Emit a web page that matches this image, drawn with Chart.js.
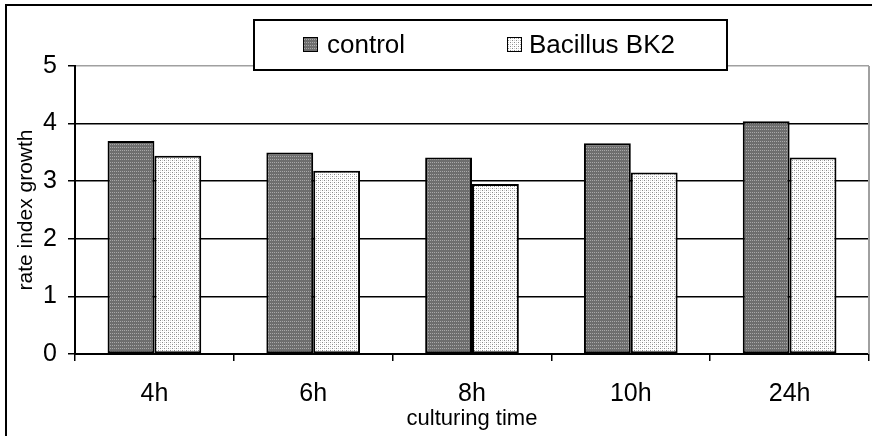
<!DOCTYPE html>
<html lang="en">
<head>
    <meta charset="UTF-8">
    <title>rate index growth</title>
    <style>
        body { margin: 0; background: #fff; }
        canvas { display: block; }
    </style>
</head>
<body>
<canvas id="chart" width="872" height="436"></canvas>

<script src="https://cdn.jsdelivr.net/npm/chart.js@4"></script>
<script>
  const categories = ['4h', '6h', '8h', '10h', '24h'];
  const controlValues = [3.70, 3.50, 3.41, 3.66, 4.04];
  const bacillusValues = [3.44, 3.18, 2.95, 3.15, 3.41];
  const seriesNames = ['control', 'Bacillus BK2'];
  const yTicks = [0, 1, 2, 3, 4, 5];

  const FONT = "'Liberation Sans', Arial, sans-serif";

  // small tiles for the dotted fills
  function makePattern(bg, dots, w, h) {
    const c = document.createElement('canvas');
    c.width = w; c.height = h;
    const g = c.getContext('2d');
    g.fillStyle = bg;
    g.fillRect(0, 0, w, h);
    dots.forEach(d => { g.fillStyle = d[2]; g.fillRect(d[0], d[1], 1, 1); });
    return g.createPattern(c, 'repeat');
  }
  const ctx = document.getElementById('chart').getContext('2d');
  const darkFill = makePattern('#6e6e6e', [[0, 0, '#a8a8a8'], [2, 0, '#a8a8a8']], 4, 3);
  const lightFill = makePattern('#ffffff', [[0, 0, '#8a8a8a'], [2, 2, '#8a8a8a'], [2, 0, '#d0d0d0'], [0, 2, '#d0d0d0']], 4, 4);

  // outer frame, plot frame and boxed legend
  const framePlugin = {
    id: 'frame',
    beforeDraw(chart) {
      const c = chart.ctx;
      c.save();
      c.fillStyle = '#fff';
      c.fillRect(0, 0, chart.width, chart.height);
      c.strokeStyle = '#000';
      c.lineWidth = 2;
      c.beginPath();
      c.moveTo(6, chart.height);
      c.lineTo(6, 5);
      c.lineTo(chart.width, 5);
      c.stroke();
      c.restore();
    },
    beforeDatasetsDraw(chart) {
      const a = chart.chartArea;
      const c = chart.ctx;
      c.save();
      c.strokeStyle = '#a0a0a0';
      c.lineWidth = 2;
      c.beginPath();
      c.moveTo(a.right, a.top);
      c.lineTo(a.right, a.bottom);
      c.stroke();
      c.restore();
    },
    afterDraw(chart) {
      const c = chart.ctx;
      c.save();
      c.fillStyle = '#fff';
      c.fillRect(254, 20, 473, 50);
      c.strokeStyle = '#000';
      c.lineWidth = 2;
      c.strokeRect(254, 20, 473, 50);
      const swatchX = [303, 507];
      const textX = [327, 529];
      chart.data.datasets.forEach((ds, i) => {
        c.fillStyle = ds.backgroundColor;
        c.fillRect(swatchX[i], 37, 15, 15);
        c.lineWidth = 1;
        c.strokeStyle = '#000';
        c.strokeRect(swatchX[i] + 0.5, 37.5, 14, 14);
        c.fillStyle = '#000';
        c.font = '26px ' + FONT;
        c.textBaseline = 'middle';
        c.fillText(ds.label, textX[i], 46);
      });
      c.restore();
    }
  };

  new Chart(ctx, {
    type: 'bar',
    data: {
      labels: categories,
      datasets: [
        { label: seriesNames[0], data: controlValues, backgroundColor: darkFill,
          borderColor: '#000', borderWidth: 2, borderSkipped: false },
        { label: seriesNames[1], data: bacillusValues, backgroundColor: lightFill,
          borderColor: '#000', borderWidth: 2, borderSkipped: false }
      ]
    },
    options: {
      responsive: false,
      animation: false,
      layout: { padding: { top: 66, right: 3, left: 0, bottom: 0 } },
      datasets: { bar: { categoryPercentage: 0.59, barPercentage: 1.0 } },
      plugins: { legend: { display: false }, tooltip: { enabled: false } },
      scales: {
        x: {
          afterFit: s => { s.height = 82; },
          grid: { drawOnChartArea: false, tickLength: 7, tickColor: '#000', lineWidth: 1.5 },
          border: { color: '#000', width: 2 },
          ticks: { color: '#000', font: { family: FONT, size: 25 }, padding: 18 },
          title: { display: true, text: 'culturing time', color: '#000',
                   font: { family: FONT, size: 22 }, padding: { top: 0, bottom: 4 } }
        },
        y: {
          min: 0, max: 5,
          afterFit: s => { s.width = 75; },
          afterBuildTicks: s => { s.ticks = yTicks.map(v => ({ value: v })); },
          grid: {
            tickLength: 7, tickColor: '#000', lineWidth: 1.5,
            color: c => (c.tick && c.tick.value === 5) ? '#a0a0a0' : '#000'
          },
          border: { color: '#000', width: 2 },
          ticks: { color: '#000', font: { family: FONT, size: 25 }, padding: 11 },
          title: { display: true, text: 'rate index growth', color: '#000',
                   font: { family: FONT, size: 21 }, padding: { top: 14, bottom: 0 } }
        }
      }
    },
    plugins: [framePlugin]
  });
</script>
</body>
</html>
